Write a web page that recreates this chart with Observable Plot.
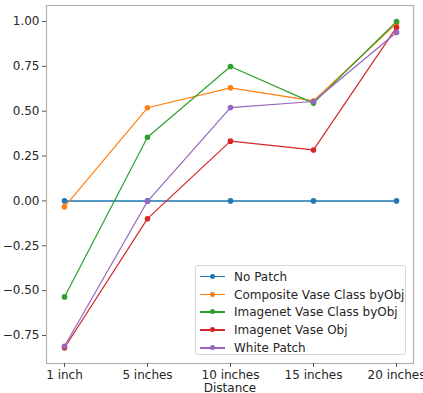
<!DOCTYPE html>
<html>
<head>
<meta charset="utf-8">
<script src="https://cdn.jsdelivr.net/npm/d3@7"></script>
<script src="https://cdn.jsdelivr.net/npm/@observablehq/plot@0.6"></script>
<style>
  html, body { margin: 0; padding: 0; background: #fff; }
  #wrap { position: relative; width: 423px; height: 393px; font-family: "DejaVu Sans", sans-serif; }
  #legend { position: absolute; left: 195px; top: 265px; width: 211px; height: 90px; box-sizing: border-box;
    border: 1px solid #d6d6d6; border-radius: 3px; background: rgba(255,255,255,0.8); padding: 2px 0 0 0; }
  .item { display: flex; align-items: center; height: 17.8px; font-size: 12px; color: #262626; white-space: nowrap; }
  .sw { position: relative; width: 25px; height: 10px; margin-left: 4px; margin-right: 9px; }
  .sw .ln { position: absolute; left: 0; right: 0; top: 4px; height: 1.5px; }
  .sw .dt { position: absolute; left: 10px; top: 2px; width: 5px; height: 5px; border-radius: 50%; }
</style>
</head>
<body>
<div id="wrap"></div>
<script>
const distances = ["1 inch", "5 inches", "10 inches", "15 inches", "20 inches"];
const seriesNames = ["No Patch", "Composite Vase Class byObj", "Imagenet Vase Class byObj", "Imagenet Vase Obj", "White Patch"];
const colors = ["#1f77b4", "#ff7f0e", "#2ca02c", "#d62728", "#9467bd"];
const noPatch = [0, 0, 0, 0, 0];
const compositeVaseClass = [-0.033, 0.519, 0.630, 0.557, 0.99];
const imagenetVaseClass = [-0.535, 0.355, 0.749, 0.545, 1.0];
const imagenetVaseObj = [-0.818, -0.099, 0.333, 0.284, 0.967];
const whitePatch = [-0.81, -0.002, 0.52, 0.554, 0.939];
const yTicks = [-0.75, -0.5, -0.25, 0, 0.25, 0.5, 0.75, 1.0];

const allSeries = [noPatch, compositeVaseClass, imagenetVaseClass, imagenetVaseObj, whitePatch];
const data = [];
allSeries.forEach((vals, si) => vals.forEach((v, i) => data.push({series: seriesNames[si], distance: distances[i], value: v})));

const chart = Plot.plot({
  width: 423,
  height: 393,
  marginLeft: 46,
  marginRight: 10,
  marginTop: 5,
  marginBottom: 30,
  style: {fontFamily: "DejaVu Sans, sans-serif", fontSize: "12px", color: "#262626", background: "#fff"},
  x: {type: "point", domain: distances, padding: 0.2, label: null, tickSize: 4},
  y: {domain: [-0.906, 1.089], ticks: yTicks, tickFormat: d3.format(".2f"), label: null, tickSize: 4},
  color: {domain: seriesNames, range: colors},
  marks: [
    Plot.frame({stroke: "#b0b0b0", strokeWidth: 1.2}),
    Plot.axisX({tickSize: 4, tickPadding: 3, fontSize: 12, stroke: "#555"}),
    Plot.axisY({ticks: yTicks, tickFormat: d3.format(".2f"), tickSize: 4, tickPadding: 3, fontSize: 12, stroke: "#555"}),
    Plot.text(["Distance"], {frameAnchor: "bottom", dy: 28, fontSize: 12, fill: "#262626"}),
    Plot.line(data, {x: "distance", y: "value", z: "series", stroke: "series", strokeWidth: d => d.series === "No Patch" ? 1.5 : 1.2}),
    Plot.dot(data, {x: "distance", y: "value", fill: "series", r: 2.8})
  ]
});
const wrap = document.getElementById("wrap");
wrap.appendChild(chart);

const legend = document.createElement("div");
legend.id = "legend";
seriesNames.forEach((name, i) => {
  const it = document.createElement("div");
  it.className = "item";
  it.innerHTML = `<div class="sw"><div class="ln" style="background:${colors[i]}"></div><div class="dt" style="background:${colors[i]}"></div></div><span>${name}</span>`;
  legend.appendChild(it);
});
wrap.appendChild(legend);
</script>
</body>
</html>
